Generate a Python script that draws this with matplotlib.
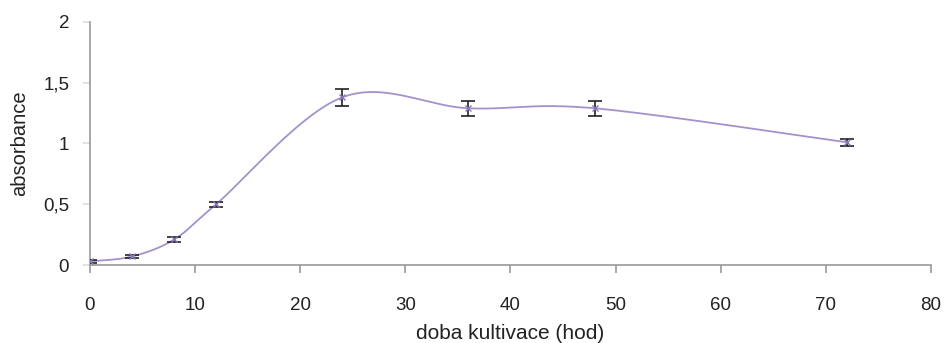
import numpy as np
import matplotlib.pyplot as plt
from matplotlib.ticker import FuncFormatter

hours = [0, 4, 8, 12, 24, 36, 48, 72]
absorbance = [0.03, 0.07, 0.21, 0.50, 1.38, 1.29, 1.29, 1.01]
sd = [0.01, 0.01, 0.02, 0.02, 0.07, 0.06, 0.06, 0.03]

x_ticks = [0, 10, 20, 30, 40, 50, 60, 70, 80]
y_ticks = [0, 0.5, 1, 1.5, 2]


def smooth_curve(x, y, n=40):
    # cubic bezier through the points, spreadsheet-style smoothing
    x = np.asarray(x, float)
    y = np.asarray(y, float)
    px = np.concatenate([[x[0]], x, [x[-1]]])
    py = np.concatenate([[y[0]], y, [y[-1]]])
    xs, ys = [], []
    t = np.linspace(0, 1, n)
    for i in range(1, len(px) - 2):
        p0 = np.array([px[i], py[i]])
        p3 = np.array([px[i + 1], py[i + 1]])
        p1 = p0 + (np.array([px[i + 1], py[i + 1]]) - np.array([px[i - 1], py[i - 1]])) / 6
        p2 = p3 - (np.array([px[i + 2], py[i + 2]]) - np.array([px[i], py[i]])) / 6
        b = ((1 - t) ** 3)[:, None] * p0 + (3 * (1 - t) ** 2 * t)[:, None] * p1 \
            + (3 * (1 - t) * t ** 2)[:, None] * p2 + (t ** 3)[:, None] * p3
        xs.extend(b[:, 0])
        ys.extend(b[:, 1])
    return np.array(xs), np.array(ys)


plt.rcParams['font.family'] = ['Liberation Sans', 'DejaVu Sans']

fig = plt.figure(figsize=(9.45, 3.43), dpi=100)
ax = fig.add_axes([0.0952, 0.2274, 0.8900, 0.7085])

sx, sy = smooth_curve(hours, absorbance)
ax.plot(sx, sy, color='#a392cc', lw=1.3, zorder=2)
ax.errorbar(hours, absorbance, yerr=sd, fmt='x', color='#8a78b8', ms=5,
            ecolor='#222222', elinewidth=1.2, capsize=5, capthick=1.2, zorder=3)

ax.set_xlim(0, 80)
ax.set_ylim(0, 2)
ax.set_xticks(x_ticks)
ax.set_yticks(y_ticks)
ax.yaxis.set_major_formatter(FuncFormatter(lambda v, p: ('%g' % v).replace('.', ',')))

for s in ['top', 'right']:
    ax.spines[s].set_visible(False)
for s in ['left', 'bottom']:
    ax.spines[s].set_color('#999999')
    ax.spines[s].set_linewidth(1.2)

ax.tick_params(axis='x', length=6, width=1.2, color='#999999', pad=17, labelsize=13.5, labelcolor='#222222')
ax.tick_params(axis='y', length=5, width=1.2, color='#dddddd', pad=10, labelsize=13.5, labelcolor='#222222')

ax.set_xlabel('doba kultivace (hod)', fontsize=15, labelpad=7, color='#222222')
ax.set_ylabel('absorbance', fontsize=14.5, labelpad=10, color='#222222')

fig.savefig('out.png', dpi=100)
